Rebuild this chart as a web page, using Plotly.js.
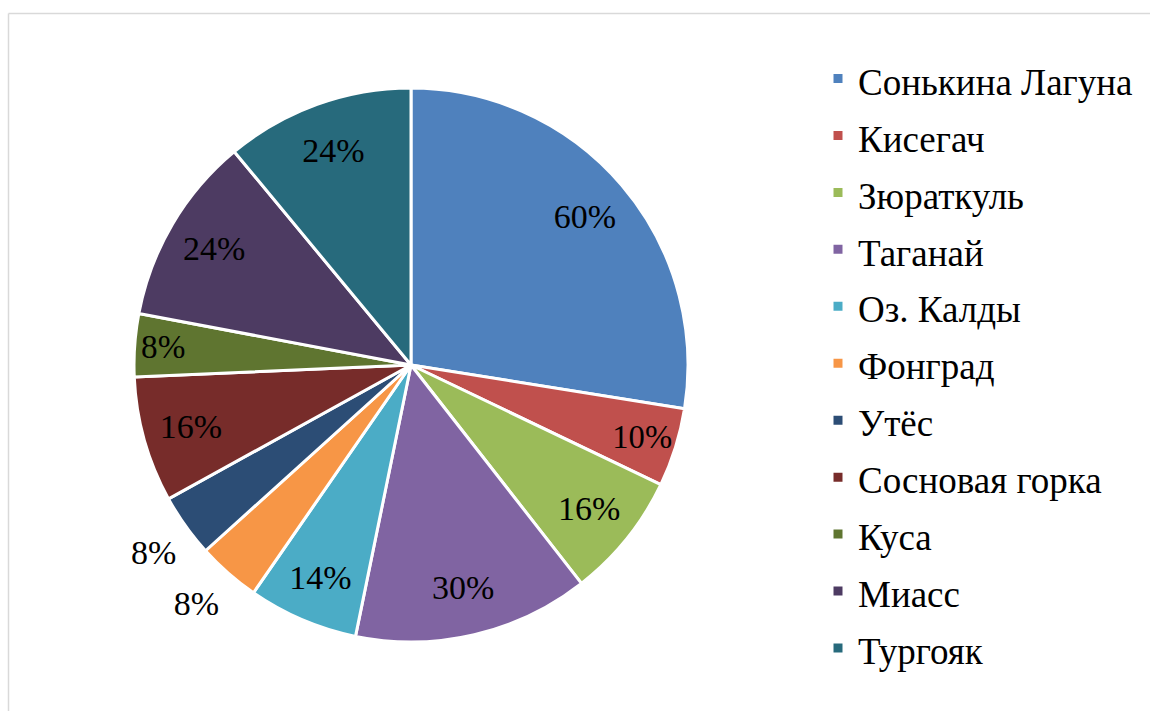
<!DOCTYPE html>
<html><head><meta charset="utf-8">
<script src="https://cdn.plot.ly/plotly-3.0.1.min.js"></script>
<style>html,body{margin:0;padding:0;background:#fff;}#chart{width:1150px;height:711px;}</style>
</head><body><div id="chart"></div>
<script>
const categories = ["Сонькина Лагуна","Кисегач","Зюраткуль","Таганай","Оз. Калды","Фонград","Утёс","Сосновая горка","Куса","Миасс","Тургояк"];
const values = [60,10,16,30,14,8,8,16,8,24,24];
const colors = ["#4F81BD","#C0504D","#9BBB59","#8064A2","#4BACC6","#F79646","#2C4D75","#772C2A","#5F7530","#4D3B62","#276A7C"];
const outsideLabel = [false,false,false,false,false,true,true,false,false,false,false];

const W = 1150, H = 711;
const FONT = "'Times New Roman', 'Liberation Serif', serif";
const dom = {x: [134/W, 688/W], y: [(H-642)/H, (H-88)/H]};
const domOut = {x: dom.x, y: [(H-642-20)/H, (H-88-20)/H]};
const legendLabels = categories.map(c => '<span style="font-size:37px">' + c + '</span>');
const pctText = values.map(v => v + "%");
const txtFont = {family: FONT, size: 34, color: "#000000"};

const slices = {
  type: "pie",
  labels: legendLabels,
  values: values,
  textinfo: "none",
  sort: false,
  direction: "clockwise",
  rotation: 0,
  marker: {colors: colors, line: {color: "#ffffff", width: 3}},
  domain: dom,
  hoverinfo: "value"
};
const insideLabels = {
  type: "pie",
  labels: legendLabels,
  values: values,
  hole: 0.65,
  text: pctText.map((t, i) => outsideLabel[i] ? "" : t),
  textinfo: "text",
  textposition: outsideLabel.map(o => o ? "none" : "inside"),
  insidetextorientation: "horizontal",
  sort: false,
  direction: "clockwise",
  rotation: 0,
  showlegend: false,
  marker: {colors: categories.map(() => "rgba(0,0,0,0)"), line: {width: 0}},
  textfont: txtFont, insidetextfont: txtFont, outsidetextfont: txtFont,
  domain: dom,
  hoverinfo: "skip"
};
const outsideLabels = {
  type: "pie",
  labels: legendLabels,
  values: values,
  text: pctText.map((t, i) => outsideLabel[i] ? t : ""),
  textinfo: "text",
  textposition: outsideLabel.map(o => o ? "outside" : "none"),
  sort: false,
  direction: "clockwise",
  rotation: 0,
  showlegend: false,
  marker: {colors: categories.map(() => "rgba(0,0,0,0)"), line: {width: 0}},
  textfont: txtFont, insidetextfont: txtFont, outsidetextfont: txtFont,
  domain: domOut,
  hoverinfo: "skip"
};
const layout = {
  width: W, height: H,
  margin: {l: 0, r: 0, t: 0, b: 0},
  paper_bgcolor: "#ffffff",
  font: {family: FONT},
  showlegend: true,
  legend: {
    x: 818/W, y: (H-45)/H, xanchor: "left", yanchor: "top",
    font: {family: FONT, size: 41.5, color: "#000000"},
    bgcolor: "rgba(0,0,0,0)", itemclick: false
  },
  shapes: [
    {type: "line", xref: "paper", yref: "paper", x0: 8.5/W, x1: 1, y0: 1-13.5/H, y1: 1-13.5/H, line: {color: "#D9D9D9", width: 1.5}},
    {type: "line", xref: "paper", yref: "paper", x0: 8.5/W, x1: 8.5/W, y0: 0, y1: 1-13.5/H, line: {color: "#D9D9D9", width: 1.5}}
  ]
};
Plotly.newPlot("chart", [slices, insideLabels, outsideLabels], layout, {displayModeBar: false, staticPlot: true});
</script></body></html>
